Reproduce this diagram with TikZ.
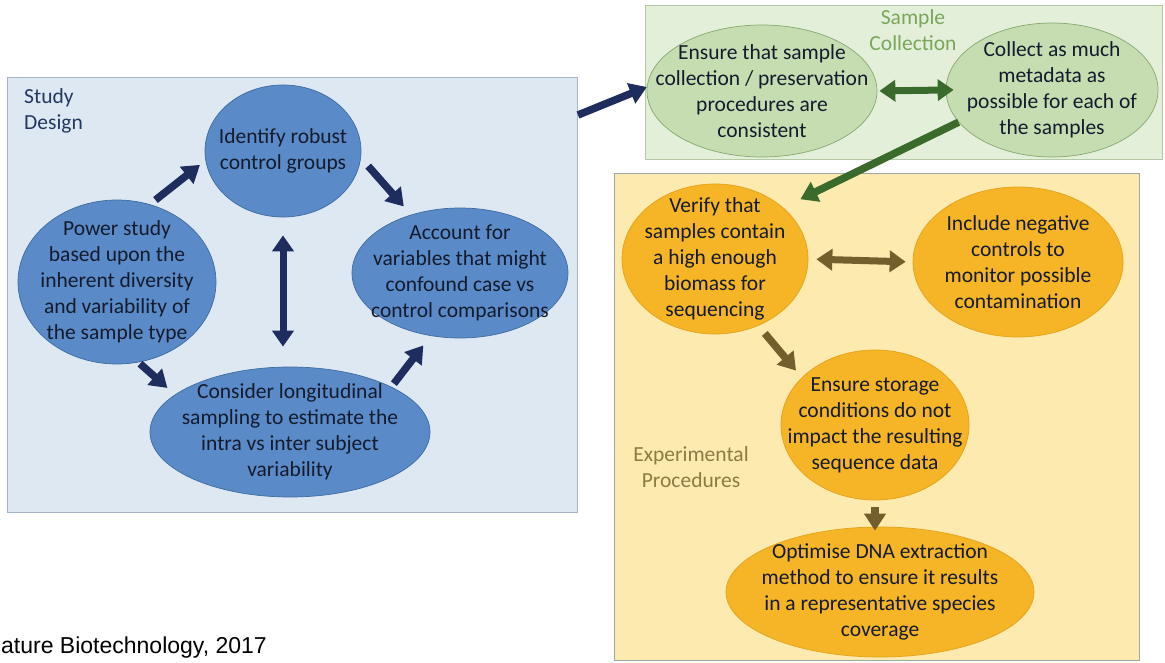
\documentclass[tikz,border=0pt]{standalone}
\usepackage{fontspec}
\setmainfont{Carlito}
\newfontfamily\capfont{Liberation Sans}
\usetikzlibrary{shapes.geometric,arrows.meta}
\definecolor{studyfill}{HTML}{DDE8F3}
\definecolor{studyline}{HTML}{A5B5C5}
\definecolor{bluefill}{HTML}{5A8BC8}
\definecolor{blueline}{HTML}{3E6C9F}
\definecolor{navy}{HTML}{1F2C5E}
\definecolor{inkdark}{HTML}{141B2D}
\definecolor{studyink}{HTML}{24385F}
\definecolor{samplefill}{HTML}{E4EFDA}
\definecolor{sampleline}{HTML}{B5C8A6}
\definecolor{greenfill}{HTML}{C6DDB1}
\definecolor{greenline}{HTML}{86A86F}
\definecolor{greenink}{HTML}{7AA65A}
\definecolor{greenarrow}{HTML}{3A6B2C}
\definecolor{procfill}{HTML}{FCEAAE}
\definecolor{procline}{HTML}{9DA7A3}
\definecolor{orangefill}{HTML}{F6B526}
\definecolor{orangeline}{HTML}{E3A21A}
\definecolor{brown}{HTML}{735F2C}
\definecolor{procink}{HTML}{8C7B45}
\begin{document}
\begin{tikzpicture}[x=1pt,y=-1pt,
    panel/.style={draw,line width=1pt,inner sep=0pt,anchor=north west},
    blob/.style={ellipse,line width=0.7pt,inner sep=0pt},
    blueblob/.style={blob,draw=blueline,fill=bluefill},
    greenblob/.style={blob,draw=greenline,fill=greenfill},
    orangeblob/.style={blob,draw=orangeline,fill=orangefill},
    txt/.style={align=center,font=\fontsize{21.5}{26}\selectfont,text=inkdark},
    fat/.style={line width=7.5pt,-{Triangle[length=17pt,width=21pt]}},
    fatboth/.style={line width=7pt,{Triangle[length=16pt,width=21pt]}-{Triangle[length=16pt,width=21pt]}}]
    \useasboundingbox (0,0) rectangle (1165,663);
    \fill[white] (0,0) rectangle (1165,663);
    \node[panel,draw=studyline,fill=studyfill,minimum width=570pt,minimum height=435pt] (design) at (7,77) {};
    \node[panel,draw=sampleline,fill=samplefill,minimum width=517pt,minimum height=154pt] (sample) at (645,5) {};
    \node[panel,draw=procline,fill=procfill,minimum width=525pt,minimum height=487pt] (proc) at (614,173) {};
    \node[txt,text=studyink,align=left,anchor=north west,inner sep=0pt] (designlbl) at (24,88) {Study\\Design};
    \node[txt,text=greenink] (samplelbl) at (913,30) {Sample\\Collection};
    \node[txt,text=procink] (proclbl) at (691,467) {Experimental\\Procedures};
    \node[blueblob,minimum width=156pt,minimum height=132pt] (idn) at (283,151) {};
    \node[blueblob,minimum width=198pt,minimum height=164pt] (pow) at (117,282) {};
    \node[blueblob,minimum width=216pt,minimum height=130pt] (acc) at (460,273) {};
    \node[blueblob,minimum width=280pt,minimum height=130pt] (con) at (290,432) {};
    \node[txt] at (idn) {Identify robust\\control groups};
    \node[txt] at (pow) {Power study\\based upon the\\inherent diversity\\and variability of\\the sample type};
    \node[txt] at (acc) {Account for\\variables that might\\confound case vs\\control comparisons};
    \node[txt] at (con) {Consider longitudinal\\sampling to estimate the\\intra vs inter subject\\variability};
    \node[greenblob,minimum width=230pt,minimum height=132pt] (ens) at (762,91) {};
    \node[greenblob,minimum width=212pt,minimum height=134pt] (col) at (1052,90) {};
    \node[txt] at (ens) {Ensure that sample\\collection / preservation\\procedures are\\consistent};
    \node[txt] at (col) {Collect as much\\metadata as\\possible for each of\\the samples};
    \node[orangeblob,minimum width=186pt,minimum height=150pt] (ver) at (715,259) {};
    \node[orangeblob,minimum width=210pt,minimum height=150pt] (inc) at (1018,262) {};
    \node[orangeblob,minimum width=188pt,minimum height=150pt] (sto) at (875,425) {};
    \node[orangeblob,minimum width=308pt,minimum height=130pt] (opt) at (880,592) {};
    \node[txt] at (ver) {Verify that\\samples contain\\a high enough\\biomass for\\sequencing};
    \node[txt] at (inc) {Include negative\\controls to\\monitor possible\\contamination};
    \node[txt] at (sto) {Ensure storage\\conditions do not\\impact the resulting\\sequence data};
    \node[txt] at (opt) {Optimise DNA extraction\\method to ensure it results\\in a representative species\\coverage};
    \draw[fat,navy,shorten <=7pt,shorten >=7pt] (pow.67) -- (idn.187);
    \draw[fat,navy,shorten <=11pt,shorten >=11pt] (idn.-5) -- (acc.130);
    \draw[fat,navy,shorten <=2pt,shorten >=10pt] (pow.-75) -- (con.162);
    \draw[fat,navy,shorten <=4pt,shorten >=12pt] (con.24) -- (acc.-115);
    \draw[fatboth,navy,shorten <=18pt,shorten >=20pt] (idn.south) -- (idn.south |- con.north);
    \draw[fat,navy] ([yshift=-38pt]design.north east) -- (ens.178);
    \draw[fatboth,greenarrow,shorten <=2pt,shorten >=-8pt] (ens.east) -- (col.west);
    \draw[fat,greenarrow,shorten >=19pt] (col.199) -- (ver.37);
    \draw[fatboth,brown,shorten <=8pt,shorten >=7pt] (ver.east) -- (inc.west);
    \draw[fat,brown,shorten <=10pt,shorten >=9pt] (ver.-57) -- (sto.147);
    \draw[fat,brown,shorten <=7pt,shorten >=-4pt] (sto.south) -- (sto.south |- opt.north);
    \node[font=\capfont\fontsize{23}{28}\selectfont,anchor=base west,inner sep=0pt] (cite) at (1,653) {ature Biotechnology, 2017};
\end{tikzpicture}
\end{document}
